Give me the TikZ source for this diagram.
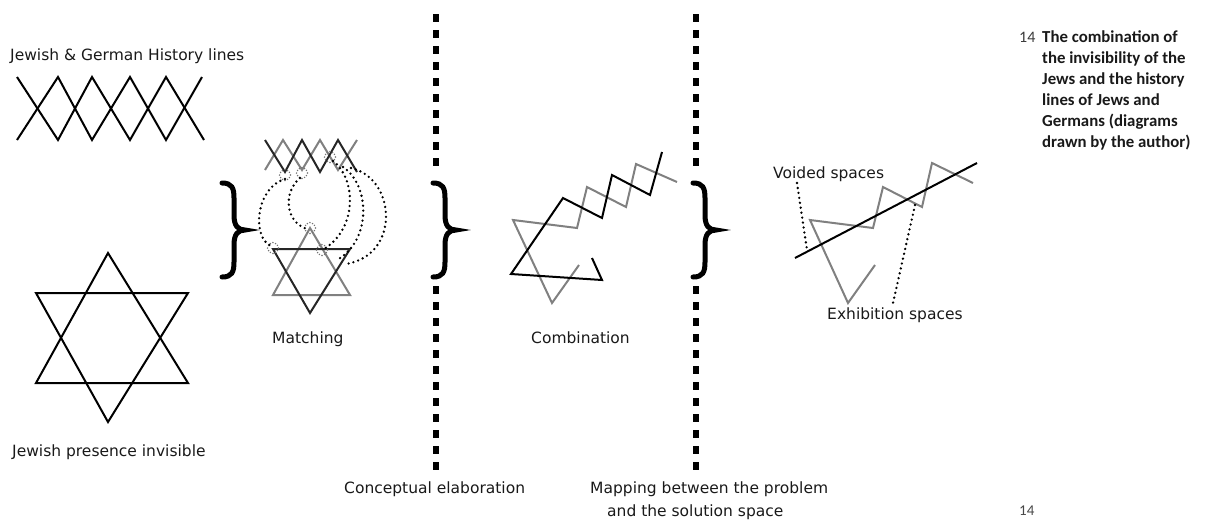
\documentclass[tikz,border=0pt]{standalone}
\usepackage{fontspec}
\setmainfont{DejaVu Sans}
\newfontfamily\capfont{Carlito}
\definecolor{lgray}{RGB}{128,128,128}
\definecolor{txt}{RGB}{25,25,25}
\begin{document}
\begin{tikzpicture}[x=1pt,y=-1pt, line join=miter,
  blk/.style={draw=black, line width=2pt},
  dblk/.style={draw=black!85, line width=2pt},
  gry/.style={draw=lgray, line width=2pt},
  lbl/.style={anchor=base west, inner sep=0pt, text=txt, font=\fontsize{15.5}{18}\selectfont},
  capline/.style={anchor=base west, inner sep=0pt, text=txt, font=\capfont\bfseries\fontsize{16.8}{21}\selectfont},
  dotline/.style={draw=black, line width=2.6pt, dash pattern=on 0pt off 5pt, line cap=round},
  tinydots/.style={draw=black!55, line width=1.6pt, dash pattern=on 0pt off 2.8pt, line cap=round},
  divider/.style={draw=black, line width=5.5pt, dash pattern=on 8pt off 8pt},
  bracepath/.style={draw=black, line width=5pt, line cap=round},
  rbrace/.pic={\draw[bracepath] (0,0) .. controls (10,0) and (12,5) .. (12,15) -- (12,32)
      .. controls (12,43) and (16,47) .. (23,47) .. controls (16,47) and (12,51) .. (12,62)
      -- (12,79) .. controls (12,89) and (10,94) .. (0,94);}
]
\useasboundingbox (0,0) rectangle (1206,520);

% ---------- dividers (interrupted by the braces) ----------
\coordinate (d1t) at (436,14); \coordinate (d1m) at (436,166);
\coordinate (d1n) at (436,286); \coordinate (d1b) at (436,472);
\coordinate (d2t) at (696,14); \coordinate (d2m) at (696,166);
\coordinate (d2n) at (696,286); \coordinate (d2b) at (696,472);
\draw[divider] (d1t) -- (d1m);
\draw[divider] (d1n) -- (d1b);
\draw[divider] (d2t) -- (d2m);
\draw[divider] (d2n) -- (d2b);

% ---------- braces ----------
\pic at (222,183) {rbrace};
\pic at (433,183) {rbrace};
\pic at (693,183) {rbrace};

% ---------- history lines ----------
\node[lbl] (histlbl) at (10,60) {Jewish \& German History lines};
\draw[blk] (17,77) -- (58,140) -- (92,77) -- (130,140) -- (166,77) -- (204,140);
\draw[blk] (17,140) -- (58,77) -- (92,140) -- (130,77) -- (166,140) -- (202,77);

% ---------- star ----------
\draw[blk] (108,253) -- (36,383) -- (188,383) -- cycle;
\draw[blk] (36,293) -- (188,293) -- (108,422) -- cycle;
\node[lbl] (starlbl) at (12,456) {Jewish presence invisible};

% ---------- matching ----------
\draw[gry] (265,170) -- (283,140) -- (302,170) -- (320,140) -- (338,170) -- (357,140);
\draw[dblk] (265,140) -- (285,172) -- (302,140) -- (320,172) -- (338,140) -- (357,172);
\draw[gry] (310,228) -- (273,295) -- (350,295) -- cycle;
\draw[dblk] (273,249) -- (350,249) -- (310,313) -- cycle;
\foreach \p in {(285,175),(302,173),(330,157),(310,228),(273,248),(322,250)}
  \draw[tinydots] \p circle[radius=5.5];
\coordinate (m1a) at (285,179); \coordinate (m1b) at (271,246);
\coordinate (m2a) at (300,178); \coordinate (m2b) at (307,229);
\coordinate (m3a) at (333,161); \coordinate (m3b) at (324,249);
\coordinate (m4a) at (343,167); \coordinate (m4b) at (337,260);
\coordinate (m5a) at (351,168); \coordinate (m5b) at (346,264);
\draw[dotline] (m1a) .. controls (255,188) and (252,238) .. (m1b);
\draw[dotline] (m2a) .. controls (283,192) and (285,222) .. (m2b);
\draw[dotline] (m3a) .. controls (356,178) and (358,228) .. (m3b);
\draw[dotline] (m4a) .. controls (370,185) and (372,240) .. (m4b);
\draw[dotline] (m5a) .. controls (396,178) and (401,255) .. (m5b);
\node[lbl] (matchlbl) at (272,343) {Matching};

% ---------- combination ----------
\draw[gry] (677,182) -- (636,164) -- (626,207) -- (587,187) -- (577,228) -- (513,220) -- (552,303) -- (579,265);
\draw[blk] (662,152) -- (650,195) -- (612,175) -- (602,218) -- (563,198) -- (511,274) -- (602,280) -- (592,258);
\node[lbl] (comblbl) at (531,343) {Combination};

% ---------- voided / exhibition ----------
\draw[gry] (875,265) -- (848,303) -- (810,220) -- (873,228) -- (883,187) -- (922,207) -- (932,163) -- (973,183);
\draw[blk] (795,258) -- (977,163);
\node[lbl] (voidlbl) at (773,178) {Voided spaces};
\node[lbl] (exhlbl) at (827,319) {Exhibition spaces};
\coordinate (v1a) at (797,183); \coordinate (v1b) at (807,250);
\coordinate (v2a) at (915,205); \coordinate (v2b) at (893,303);
\draw[dotline] (v1a) -- (v1b);
\draw[dotline] (v2a) -- (v2b);

% ---------- bottom labels ----------
\node[lbl] (conclbl) at (344,493) {Conceptual elaboration};
\node[lbl] (maplbl1) at (590,493) {Mapping between the problem};
\node[lbl] (maplbl2) at (607,516) {and the solution space};

% ---------- caption ----------
\node[anchor=base west, inner sep=0pt, text=txt!85, font=\capfont\fontsize{16}{21}\selectfont] (capnum) at (1019,42) {14};
\node[capline] (cap1) at (1042,42)  {The combination of};
\node[capline] (cap2) at (1042,63)  {the invisibility of the};
\node[capline] (cap3) at (1042,84)  {Jews and the history};
\node[capline] (cap4) at (1042,105) {lines of Jews and};
\node[capline] (cap5) at (1042,126) {Germans (diagrams};
\node[capline] (cap6) at (1042,147) {drawn by the author)};
\node[anchor=base west, inner sep=0pt, text=txt!80, font=\capfont\fontsize{15}{18}\selectfont] (pagenum) at (1019,515) {14};
\end{tikzpicture}
\end{document}
